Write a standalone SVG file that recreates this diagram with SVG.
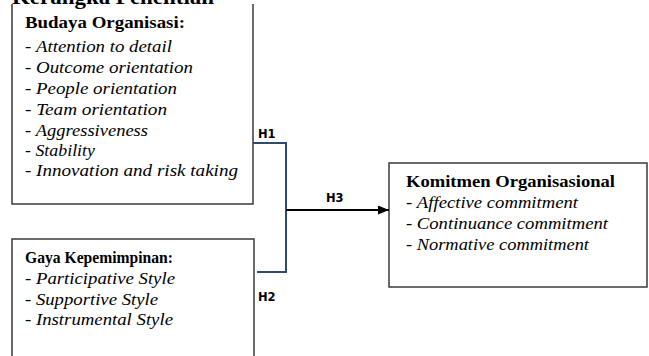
<svg xmlns="http://www.w3.org/2000/svg" width="649" height="356" viewBox="0 0 649 356">
<defs>
<style>
.box{fill:#ffffff;stroke:#3a3a3a;stroke-width:1.5}
.ttl{font-family:"Liberation Serif",serif;font-weight:bold;font-size:17px;fill:#000}
.itm{font-family:"Liberation Serif",serif;font-style:italic;font-size:16px;fill:#000}
.dash{font-style:normal}
.lbl{font-family:"DejaVu Sans",sans-serif;font-weight:bold;font-size:11.5px;fill:#000}
.conn{fill:none;stroke:#2f4a70;stroke-width:2}
.arr{fill:none;stroke:#000;stroke-width:2}
</style>
<marker id="ah" viewBox="0 0 11 9" refX="11" refY="4.5" markerWidth="11" markerHeight="9" markerUnits="userSpaceOnUse" orient="auto">
<path d="M0,0 L11,4.5 L0,9 Z" fill="#000"/>
</marker>
</defs>
<rect width="649" height="356" fill="#ffffff"/>
<g id="budaya">
<rect class="box" x="12" y="-4" width="241" height="208"/>
<text class="ttl" x="25" y="28" textLength="160" lengthAdjust="spacingAndGlyphs">Budaya Organisasi:</text>
<text class="itm" x="25" y="52" textLength="147" lengthAdjust="spacingAndGlyphs"><tspan class="dash">- </tspan>Attention to detail</text>
<text class="itm" x="25" y="73" textLength="168" lengthAdjust="spacingAndGlyphs"><tspan class="dash">- </tspan>Outcome orientation</text>
<text class="itm" x="25" y="94" textLength="152" lengthAdjust="spacingAndGlyphs"><tspan class="dash">- </tspan>People orientation</text>
<text class="itm" x="25" y="115" textLength="142" lengthAdjust="spacingAndGlyphs"><tspan class="dash">- </tspan>Team orientation</text>
<text class="itm" x="25" y="136" textLength="123" lengthAdjust="spacingAndGlyphs"><tspan class="dash">- </tspan>Aggressiveness</text>
<text class="itm" x="25" y="156" textLength="70" lengthAdjust="spacingAndGlyphs"><tspan class="dash">- </tspan>Stability</text>
<text class="itm" x="25" y="176" textLength="213" lengthAdjust="spacingAndGlyphs"><tspan class="dash">- </tspan>Innovation and risk taking</text>
</g>
<g id="heading">
<rect x="0" y="-5" width="262" height="9" fill="#ffffff"/>
<text x="12" y="4" class="ttl" style="font-size:20px" textLength="202" lengthAdjust="spacingAndGlyphs">Kerangka Penelitian</text>
</g>
<g id="gaya">
<rect class="box" x="12" y="239" width="242" height="130"/>
<text class="ttl" x="25" y="263" textLength="148" lengthAdjust="spacingAndGlyphs">Gaya Kepemimpinan:</text>
<text class="itm" x="25" y="284" textLength="150" lengthAdjust="spacingAndGlyphs"><tspan class="dash">- </tspan>Participative Style</text>
<text class="itm" x="25" y="305" textLength="133" lengthAdjust="spacingAndGlyphs"><tspan class="dash">- </tspan>Supportive Style</text>
<text class="itm" x="25" y="325" textLength="148" lengthAdjust="spacingAndGlyphs"><tspan class="dash">- </tspan>Instrumental Style</text>
</g>
<g id="komitmen">
<rect class="box" x="389" y="163" width="258" height="124"/>
<text class="ttl" x="406" y="187" textLength="209" lengthAdjust="spacingAndGlyphs">Komitmen Organisasional</text>
<text class="itm" x="406" y="208" textLength="172" lengthAdjust="spacingAndGlyphs"><tspan class="dash">- </tspan>Affective commitment</text>
<text class="itm" x="406" y="229" textLength="202" lengthAdjust="spacingAndGlyphs"><tspan class="dash">- </tspan>Continuance commitment</text>
<text class="itm" x="406" y="250" textLength="183" lengthAdjust="spacingAndGlyphs"><tspan class="dash">- </tspan>Normative commitment</text>
</g>
<g id="connectors">
<path class="conn" d="M253,143 H286 V272 H257"/>
<path class="arr" d="M286,210 H389" marker-end="url(#ah)"/>
<text class="lbl" x="258" y="138">H1</text>
<text class="lbl" x="258" y="301">H2</text>
<text class="lbl" x="326" y="202">H3</text>
</g>
</svg>
